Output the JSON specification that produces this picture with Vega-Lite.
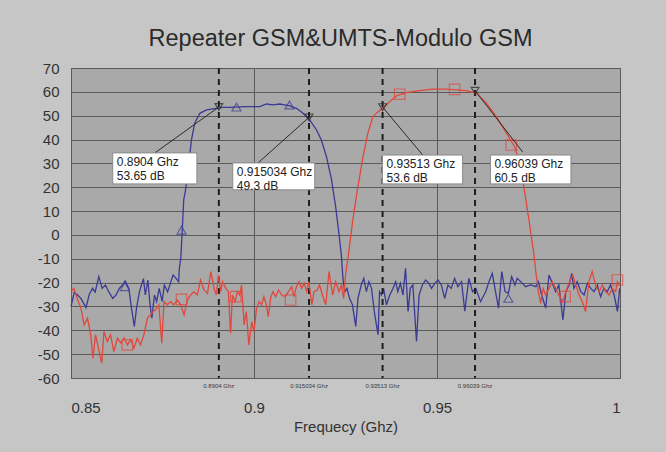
{
  "$schema": "https://vega.github.io/schema/vega-lite/v6.json",
  "width": 549,
  "height": 310,
  "autosize": {"type": "none"},
  "padding": {"left": 71, "top": 68, "right": 46, "bottom": 74},
  "background": "#c6c6c6",
  "title": {"text": "Repeater GSM&UMTS-Modulo GSM", "font": "Liberation Sans", "fontSize": 23.5, "fontWeight": "normal", "color": "#2b2b2b", "offset": 11, "dx": -5},
  "config": {
    "view": {"fill": "#a9a9a9", "stroke": "#5c5c5c", "strokeWidth": 1},
    "axis": {"domain": false, "ticks": false, "grid": true, "gridColor": "#5a5a5a", "gridWidth": 1, "gridOpacity": 1, "labelFont": "Liberation Sans", "labelFontSize": 15, "labelColor": "#333333", "titleFont": "Liberation Sans", "titleFontWeight": "normal", "titleColor": "#333333"}
  },
  "datasets": {
    "blue": [
      {"f":0.8500,"db":-30.1},{"f":0.8509,"db":-24.0},{"f":0.8518,"db":-25.2},{"f":0.8527,"db":-26.6},{"f":0.8541,"db":-30.5},{"f":0.8550,"db":-24.9},{"f":0.8559,"db":-22.4},{"f":0.8566,"db":-24.0},{"f":0.8576,"db":-17.5},{"f":0.8585,"db":-22.4},{"f":0.8594,"db":-21.0},{"f":0.8603,"db":-23.8},{"f":0.8614,"db":-26.6},{"f":0.8623,"db":-25.2},{"f":0.8632,"db":-22.4},{"f":0.8641,"db":-21.0},{"f":0.8648,"db":-19.3},{"f":0.8658,"db":-22.4},{"f":0.8664,"db":-29.3},{"f":0.8673,"db":-38.4},{"f":0.8679,"db":-30.7},{"f":0.8687,"db":-23.8},{"f":0.8698,"db":-18.4},{"f":0.8703,"db":-25.2},{"f":0.8710,"db":-18.9},{"f":0.8716,"db":-29.3},{"f":0.8721,"db":-34.9},{"f":0.8728,"db":-25.2},{"f":0.8734,"db":-27.9},{"f":0.8741,"db":-22.4},{"f":0.8749,"db":-27.9},{"f":0.8755,"db":-21.0},{"f":0.8764,"db":-23.8},{"f":0.8773,"db":-19.6},{"f":0.8779,"db":-16.8},{"f":0.8787,"db":-18.2},{"f":0.8794,"db":-19.6},{"f":0.8796,"db":-14.0},{"f":0.8800,"db":-9.8},
      {"f":0.8804,"db":2.1},{"f":0.8808,"db":14.7},{"f":0.8813,"db":18.9},{"f":0.8820,"db":27.3},{"f":0.8829,"db":39.8},{"f":0.8838,"db":46.8},{"f":0.8852,"db":51.0},{"f":0.8870,"db":52.4},{"f":0.8897,"db":53.1},{"f":0.8915,"db":53.5},{"f":0.8934,"db":53.5},{"f":0.8979,"db":53.8},{"f":0.9016,"db":53.8},{"f":0.9034,"db":54.9},{"f":0.9052,"db":54.5},{"f":0.9070,"db":54.9},{"f":0.9084,"db":54.5},{"f":0.9098,"db":54.1},{"f":0.9116,"db":53.1},{"f":0.9134,"db":51.0},{"f":0.9152,"db":48.2},{"f":0.9171,"db":44.0},{"f":0.9184,"db":39.8},{"f":0.9198,"db":32.8},{"f":0.9212,"db":23.1},{"f":0.9223,"db":11.9},{"f":0.9232,"db":0.7},{"f":0.9239,"db":-9.1},
      {"f":0.9243,"db":-18.2},{"f":0.9248,"db":-23.8},{"f":0.9254,"db":-22.4},{"f":0.9261,"db":-26.6},{"f":0.9269,"db":-29.3},{"f":0.9278,"db":-38.4},{"f":0.9284,"db":-26.6},{"f":0.9293,"db":-21.0},{"f":0.9300,"db":-18.2},{"f":0.9307,"db":-23.8},{"f":0.9314,"db":-19.6},{"f":0.9321,"db":-22.4},{"f":0.9330,"db":-33.5},{"f":0.9339,"db":-41.9},{"f":0.9343,"db":-23.8},{"f":0.9348,"db":-25.2},{"f":0.9354,"db":-22.4},{"f":0.9362,"db":-29.3},{"f":0.9371,"db":-25.2},{"f":0.9380,"db":-22.4},{"f":0.9387,"db":-19.6},{"f":0.9393,"db":-23.8},{"f":0.9400,"db":-20.3},{"f":0.9407,"db":-25.2},{"f":0.9414,"db":-14.0},{"f":0.9421,"db":-32.1},{"f":0.9427,"db":-22.4},{"f":0.9434,"db":-21.0},{"f":0.9444,"db":-44.7},{"f":0.9451,"db":-25.2},{"f":0.9460,"db":-21.0},{"f":0.9469,"db":-18.9},{"f":0.9478,"db":-20.3},{"f":0.9485,"db":-22.4},{"f":0.9494,"db":-20.3},{"f":0.9503,"db":-18.9},{"f":0.9512,"db":-21.0},{"f":0.9521,"db":-26.6},{"f":0.9530,"db":-21.0},{"f":0.9539,"db":-22.4},{"f":0.9548,"db":-18.2},{"f":0.9557,"db":-21.7},{"f":0.9567,"db":-19.6},{"f":0.9576,"db":-32.0},{"f":0.9587,"db":-18.2},{"f":0.9597,"db":-23.8},{"f":0.9606,"db":-22.4},{"f":0.9619,"db":-28.0},{"f":0.9633,"db":-23.8},{"f":0.9642,"db":-19.6},{"f":0.9651,"db":-16.1},{"f":0.9668,"db":-30.7},{"f":0.9677,"db":-15.4},{"f":0.9686,"db":-23.8},{"f":0.9695,"db":-24.5},{"f":0.9704,"db":-17.5},{"f":0.9713,"db":-21.0},{"f":0.9719,"db":-18.2},{"f":0.9729,"db":-19.6},{"f":0.9742,"db":-21.7},{"f":0.9756,"db":-21.0},{"f":0.9770,"db":-21.7},{"f":0.9777,"db":-19.6},{"f":0.9786,"db":-25.2},{"f":0.9797,"db":-30.7},{"f":0.9806,"db":-16.8},{"f":0.9817,"db":-21.0},{"f":0.9824,"db":-23.8},{"f":0.9833,"db":-21.0},{"f":0.9844,"db":-35.6},{"f":0.9852,"db":-23.8},{"f":0.9861,"db":-21.0},{"f":0.9868,"db":-16.1},{"f":0.9874,"db":-22.4},{"f":0.9883,"db":-19.6},{"f":0.9893,"db":-23.8},{"f":0.9902,"db":-25.2},{"f":0.9911,"db":-20.3},{"f":0.9920,"db":-22.4},{"f":0.9929,"db":-23.8},{"f":0.9938,"db":-21.0},{"f":0.9947,"db":-25.9},{"f":0.9956,"db":-22.4},{"f":0.9965,"db":-23.8},{"f":0.9974,"db":-21.0},{"f":0.9984,"db":-25.2},{"f":0.9993,"db":-32.1},{"f":0.9999,"db":-22.4}
    ],
    "red": [
      {"f":0.8500,"db":-23.8},{"f":0.8508,"db":-22.4},{"f":0.8517,"db":-26.6},{"f":0.8527,"db":-30.7},{"f":0.8536,"db":-37.7},{"f":0.8545,"db":-34.9},{"f":0.8554,"db":-41.9},{"f":0.8560,"db":-51.7},{"f":0.8567,"db":-41.9},{"f":0.8575,"db":-47.5},{"f":0.8584,"db":-53.8},{"f":0.8590,"db":-40.5},{"f":0.8599,"db":-44.7},{"f":0.8608,"db":-41.9},{"f":0.8617,"db":-48.9},{"f":0.8627,"db":-43.3},{"f":0.8636,"db":-45.4},{"f":0.8645,"db":-43.3},{"f":0.8654,"db":-46.1},{"f":0.8663,"db":-44.0},{"f":0.8672,"db":-47.5},{"f":0.8681,"db":-43.3},{"f":0.8690,"db":-46.1},{"f":0.8699,"db":-41.9},{"f":0.8709,"db":-34.9},{"f":0.8718,"db":-33.5},{"f":0.8724,"db":-32.1},{"f":0.8731,"db":-31.4},{"f":0.8740,"db":-29.3},{"f":0.8748,"db":-45.4},{"f":0.8754,"db":-28.0},{"f":0.8763,"db":-29.3},{"f":0.8772,"db":-28.0},{"f":0.8781,"db":-29.3},{"f":0.8791,"db":-27.3},{"f":0.8800,"db":-29.3},{"f":0.8809,"db":-33.5},{"f":0.8818,"db":-27.3},{"f":0.8827,"db":-25.2},{"f":0.8836,"db":-23.8},{"f":0.8845,"db":-25.2},{"f":0.8854,"db":-18.9},{"f":0.8863,"db":-23.0},{"f":0.8873,"db":-24.5},{"f":0.8882,"db":-15.4},{"f":0.8891,"db":-22.4},{"f":0.8897,"db":-25.2},{"f":0.8903,"db":-16.8},{"f":0.8909,"db":-23.8},{"f":0.8914,"db":-19.6},{"f":0.8923,"db":-22.4},{"f":0.8930,"db":-23.8},{"f":0.8936,"db":-41.2},{"f":0.8941,"db":-25.2},{"f":0.8948,"db":-28.0},{"f":0.8955,"db":-23.8},{"f":0.8961,"db":-25.2},{"f":0.8966,"db":-21.0},{"f":0.8973,"db":-37.7},{"f":0.8979,"db":-32.1},{"f":0.8986,"db":-46.1},{"f":0.8994,"db":-36.4},{"f":0.9000,"db":-40.5},{"f":0.9007,"db":-30.7},{"f":0.9014,"db":-28.0},{"f":0.9021,"db":-29.3},{"f":0.9027,"db":-25.9},{"f":0.9034,"db":-29.3},{"f":0.9039,"db":-34.3},{"f":0.9046,"db":-25.9},{"f":0.9052,"db":-23.8},{"f":0.9059,"db":-25.9},{"f":0.9067,"db":-23.1},{"f":0.9076,"db":-25.2},{"f":0.9085,"db":-25.9},{"f":0.9094,"db":-23.8},{"f":0.9103,"db":-21.7},{"f":0.9109,"db":-25.9},{"f":0.9116,"db":-21.7},{"f":0.9123,"db":-19.6},{"f":0.9130,"db":-22.4},{"f":0.9137,"db":-20.3},{"f":0.9144,"db":-23.8},{"f":0.9150,"db":-19.6},{"f":0.9158,"db":-29.3},{"f":0.9164,"db":-23.8},{"f":0.9173,"db":-23.1},{"f":0.9179,"db":-21.0},{"f":0.9187,"db":-25.2},{"f":0.9196,"db":-29.3},{"f":0.9205,"db":-15.4},{"f":0.9215,"db":-25.2},{"f":0.9223,"db":-19.6},{"f":0.9232,"db":-23.8},{"f":0.9239,"db":-21.0},{"f":0.9245,"db":-26.6},{"f":0.9250,"db":-16.8},{"f":0.9257,"db":-9.5},
      {"f":0.9270,"db":6.3},{"f":0.9284,"db":20.3},{"f":0.9298,"db":32.8},{"f":0.9311,"db":42.6},{"f":0.9325,"db":49.6},{"f":0.9339,"db":51.7},{"f":0.9352,"db":53.1},{"f":0.9371,"db":55.9},{"f":0.9389,"db":58.3},{"f":0.9416,"db":59.7},{"f":0.9453,"db":60.5},{"f":0.9489,"db":61.1},{"f":0.9526,"db":61.1},{"f":0.9553,"db":60.8},{"f":0.9580,"db":60.5},{"f":0.9608,"db":59.4},{"f":0.9635,"db":55.2},{"f":0.9662,"db":49.6},{"f":0.9690,"db":42.6},{"f":0.9712,"db":37.0},{"f":0.9726,"db":30.1},{"f":0.9740,"db":17.5},{"f":0.9754,"db":3.5},{"f":0.9765,"db":-8.4},
      {"f":0.9771,"db":-16.8},{"f":0.9777,"db":-23.8},{"f":0.9783,"db":-28.7},{"f":0.9790,"db":-22.4},{"f":0.9797,"db":-25.2},{"f":0.9806,"db":-22.4},{"f":0.9815,"db":-19.6},{"f":0.9824,"db":-22.4},{"f":0.9833,"db":-25.2},{"f":0.9843,"db":-28.0},{"f":0.9852,"db":-23.8},{"f":0.9862,"db":-19.6},{"f":0.9871,"db":-16.8},{"f":0.9879,"db":-21.0},{"f":0.9888,"db":-25.2},{"f":0.9897,"db":-28.0},{"f":0.9906,"db":-32.1},{"f":0.9915,"db":-19.6},{"f":0.9924,"db":-15.4},{"f":0.9933,"db":-21.0},{"f":0.9943,"db":-23.8},{"f":0.9952,"db":-21.0},{"f":0.9961,"db":-23.8},{"f":0.9970,"db":-25.2},{"f":0.9979,"db":-22.4},{"f":0.9988,"db":-23.8},{"f":0.9993,"db":-19.6},{"f":0.9999,"db":-21.0}
    ],
    "blueMarks": [
      {"f":0.8647,"db":-21.7},{"f":0.8802,"db":2.0},{"f":0.8952,"db":53.6},{"f":0.9097,"db":54.5},{"f":0.9695,"db":-26.6}
    ],
    "redMarks": [
      {"f":0.8654,"db":-46.1},{"f":0.8802,"db":-27.0},{"f":0.8950,"db":-25.9},{"f":0.9100,"db":-27.3},{"f":0.9398,"db":59.0},{"f":0.9548,"db":61.0},{"f":0.9703,"db":37.7},{"f":0.9850,"db":-25.9},{"f":0.9993,"db":-18.9}
    ],
    "markers": [
      {"f":0.8904,"db":53.65,"lab":"0.8904 Ghz"},
      {"f":0.915034,"db":49.3,"lab":"0.915034 Ghz"},
      {"f":0.93513,"db":53.6,"lab":"0.93513 Ghz"},
      {"f":0.96039,"db":60.5,"lab":"0.96039 Ghz"}
    ],
    "notes": [
      {"f":0.8614,"f2":0.8844,"db":34.4,"db2":21.4,"lf":0.8729,"ldb":34.4,"mf":0.8904,"mdb":53.65,"txt":"0.8904 Ghz\n53.65 dB"},
      {"f":0.8942,"f2":0.9166,"db":30.2,"db2":18.9,"lf":0.9011,"ldb":30.2,"mf":0.915034,"mdb":49.3,"txt":"0.915034 Ghz\n49.3 dB"},
      {"f":0.9351,"f2":0.9570,"db":33.5,"db2":21.4,"lf":0.9461,"ldb":33.5,"mf":0.93513,"mdb":53.6,"txt":"0.93513 Ghz\n53.6 dB"},
      {"f":0.9646,"f2":0.9866,"db":33.5,"db2":21.4,"lf":0.9734,"ldb":34.8,"mf":0.96039,"mdb":60.5,"txt":"0.96039 Ghz\n60.5 dB"}
    ]
  },
  "layer": [
    {
      "data": {"name": "blue"},
      "mark": {"type": "line", "color": "#3b3a95", "strokeWidth": 1.3},
      "encoding": {
        "x": {"field": "f", "type": "quantitative", "scale": {"domain": [0.85, 1], "nice": false, "zero": false}, "title": "Frequecy (Ghz)",
              "axis": {"values": [0.85, 0.9, 0.95, 1], "format": "~g", "labelPadding": 22, "titleFontSize": 15, "titlePadding": 4}},
        "y": {"field": "db", "type": "quantitative", "scale": {"domain": [-60, 70], "nice": false, "zero": false}, "title": null,
              "axis": {"values": [-60,-50,-40,-30,-20,-10,0,10,20,30,40,50,60,70], "labelExpr": "toString(datum.value)", "labelPadding": 12, "labelOverlap": false}}
      }
    },
    {
      "data": {"name": "markers"},
      "mark": {"type": "rule", "color": "#1e1e1e", "strokeWidth": 2, "strokeDash": [6, 5]},
      "encoding": {
        "x": {"field": "f", "type": "quantitative", "title": "Frequecy (Ghz)", "axis": {"values": [0.85, 0.9, 0.95, 1], "format": "~g", "labelPadding": 22, "titleFontSize": 15, "titlePadding": 4}}
      }
    },
    {
      "data": {"name": "markers"},
      "mark": {"type": "text", "fontSize": 6, "color": "#3a3a3a", "baseline": "top", "dy": 5, "font": "Liberation Sans"},
      "encoding": {
        "x": {"field": "f", "type": "quantitative", "title": "Frequecy (Ghz)", "axis": {"values": [0.85, 0.9, 0.95, 1], "format": "~g", "labelPadding": 22, "titleFontSize": 15, "titlePadding": 4}},
        "y": {"value": "height"},
        "text": {"field": "lab"}
      }
    },
    {
      "data": {"name": "red"},
      "mark": {"type": "line", "color": "#e2473c", "strokeWidth": 1.3},
      "encoding": {
        "x": {"field": "f", "type": "quantitative", "title": "Frequecy (Ghz)", "axis": {"values": [0.85, 0.9, 0.95, 1], "format": "~g", "labelPadding": 22, "titleFontSize": 15, "titlePadding": 4}},
        "y": {"field": "db", "type": "quantitative", "title": null, "axis": {"values": [-60,-50,-40,-30,-20,-10,0,10,20,30,40,50,60,70], "labelExpr": "toString(datum.value)", "labelPadding": 12, "labelOverlap": false}}
      }
    },
    {
      "data": {"name": "blueMarks"},
      "mark": {"type": "point", "shape": "triangle-up", "filled": false, "color": "#3b3a95", "size": 80, "strokeWidth": 1.2},
      "encoding": {
        "x": {"field": "f", "type": "quantitative", "title": "Frequecy (Ghz)", "axis": {"values": [0.85, 0.9, 0.95, 1], "format": "~g", "labelPadding": 22, "titleFontSize": 15, "titlePadding": 4}},
        "y": {"field": "db", "type": "quantitative", "title": null, "axis": {"values": [-60,-50,-40,-30,-20,-10,0,10,20,30,40,50,60,70], "labelExpr": "toString(datum.value)", "labelPadding": 12, "labelOverlap": false}}
      }
    },
    {
      "data": {"name": "redMarks"},
      "mark": {"type": "point", "shape": "square", "filled": false, "color": "#e2473c", "size": 110, "strokeWidth": 1.2},
      "encoding": {
        "x": {"field": "f", "type": "quantitative", "title": "Frequecy (Ghz)", "axis": {"values": [0.85, 0.9, 0.95, 1], "format": "~g", "labelPadding": 22, "titleFontSize": 15, "titlePadding": 4}},
        "y": {"field": "db", "type": "quantitative", "title": null, "axis": {"values": [-60,-50,-40,-30,-20,-10,0,10,20,30,40,50,60,70], "labelExpr": "toString(datum.value)", "labelPadding": 12, "labelOverlap": false}}
      }
    },
    {
      "data": {"name": "markers"},
      "mark": {"type": "point", "shape": "triangle-down", "filled": false, "color": "#222222", "size": 60, "strokeWidth": 1.2},
      "encoding": {
        "x": {"field": "f", "type": "quantitative", "title": "Frequecy (Ghz)", "axis": {"values": [0.85, 0.9, 0.95, 1], "format": "~g", "labelPadding": 22, "titleFontSize": 15, "titlePadding": 4}},
        "y": {"field": "db", "type": "quantitative", "title": null, "axis": {"values": [-60,-50,-40,-30,-20,-10,0,10,20,30,40,50,60,70], "labelExpr": "toString(datum.value)", "labelPadding": 12, "labelOverlap": false}}
      }
    },
    {
      "data": {"name": "notes"},
      "mark": {"type": "rule", "color": "#2a2a2a", "strokeWidth": 1},
      "encoding": {
        "x": {"field": "lf", "type": "quantitative", "title": "Frequecy (Ghz)", "axis": {"values": [0.85, 0.9, 0.95, 1], "format": "~g", "labelPadding": 22, "titleFontSize": 15, "titlePadding": 4}},
        "y": {"field": "ldb", "type": "quantitative", "title": null, "axis": {"values": [-60,-50,-40,-30,-20,-10,0,10,20,30,40,50,60,70], "labelExpr": "toString(datum.value)", "labelPadding": 12, "labelOverlap": false}},
        "x2": {"field": "mf"}, "y2": {"field": "mdb"}
      }
    },
    {
      "data": {"name": "notes"},
      "mark": {"type": "rect", "fill": "#ffffff", "stroke": "#8a8a8a", "strokeWidth": 1},
      "encoding": {
        "x": {"field": "f", "type": "quantitative", "title": "Frequecy (Ghz)", "axis": {"values": [0.85, 0.9, 0.95, 1], "format": "~g", "labelPadding": 22, "titleFontSize": 15, "titlePadding": 4}},
        "x2": {"field": "f2"},
        "y": {"field": "db", "type": "quantitative", "title": null, "axis": {"values": [-60,-50,-40,-30,-20,-10,0,10,20,30,40,50,60,70], "labelExpr": "toString(datum.value)", "labelPadding": 12, "labelOverlap": false}},
        "y2": {"field": "db2"}
      }
    },
    {
      "data": {"name": "notes"},
      "mark": {"type": "text", "align": "left", "baseline": "top", "dx": 4, "dy": 4, "fontSize": 12, "lineHeight": 14, "lineBreak": "\n", "font": "Liberation Sans", "color": "#222222"},
      "encoding": {
        "x": {"field": "f", "type": "quantitative", "title": "Frequecy (Ghz)", "axis": {"values": [0.85, 0.9, 0.95, 1], "format": "~g", "labelPadding": 22, "titleFontSize": 15, "titlePadding": 4}},
        "y": {"field": "db", "type": "quantitative", "title": null, "axis": {"values": [-60,-50,-40,-30,-20,-10,0,10,20,30,40,50,60,70], "labelExpr": "toString(datum.value)", "labelPadding": 12, "labelOverlap": false}},
        "text": {"field": "txt"}
      }
    }
  ]
}
